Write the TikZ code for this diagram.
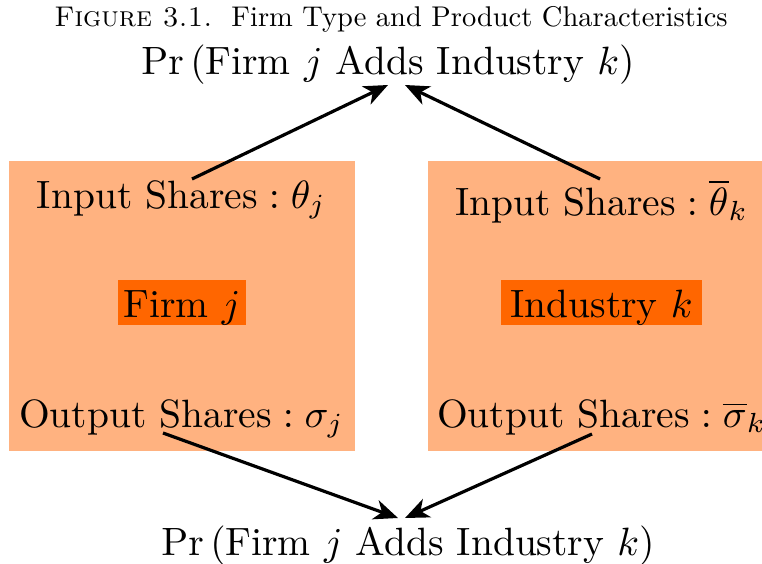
\documentclass[tikz,border=0pt]{standalone}
\usepackage{amsmath}
\usepackage{graphicx}
\usetikzlibrary{arrows.meta}
\definecolor{boxlight}{RGB}{255,178,128}
\definecolor{boxdark}{RGB}{255,102,0}
\newcommand{\bigtxt}[1]{\scalebox{3.95}{#1}}
\tikzset{
  lbl/.style={inner sep=0pt, anchor=base},
  panel/.style={fill=boxlight, draw=none},
  core/.style={fill=boxdark, draw=none},
  conn/.style={line width=3.2pt, -{Stealth[length=24pt,width=20pt,inset=7pt]}}
}
\begin{document}
\begin{tikzpicture}[x=1pt,y=-1pt]
\useasboundingbox (0,0) rectangle (762,564);
\fill[white] (0,0) rectangle (762,564);
% panels
\path[panel] (9,161) rectangle (355,451);
\path[panel] (428,161) rectangle (770,451);
\path[core] (118,280) rectangle (246,325);
\path[core] (501,280) rectangle (702,325);
% texts
\node[lbl] (cap) at (391,27) {\scalebox{2.85}{\textsc{Figure 3.1.}\ \ Firm Type and Product Characteristics}};
\node[lbl] (top) at (388,75) {\bigtxt{$\Pr\left(\text{Firm }j\text{ Adds Industry }k\right)$}};
\node[lbl] (inL) at (181.5,208) {\bigtxt{$\text{Input Shares} : \theta_j$}};
\node[lbl] (firm) at (182,317) {\bigtxt{Firm $j$}};
\node[lbl] (outL) at (181.5,427) {\bigtxt{$\text{Output Shares} : \sigma_j$}};
\node[lbl] (inR) at (601.5,215) {\bigtxt{$\text{Input Shares} : \overline{\theta}_k$}};
\node[lbl] (ind) at (601.5,317) {\bigtxt{Industry $k$}};
\node[lbl, anchor=base west] (outR) at (437,427) {\bigtxt{$\text{Output Shares} : \overline{\sigma}_k$}};
\node[lbl] (bot) at (408,555) {\bigtxt{$\Pr\left(\text{Firm }j\text{ Adds Industry }k\right)$}};
% connector ends
\coordinate (sIL) at (192,179);
\coordinate (sIR) at (600,179);
\coordinate (sOL) at (163,433);
\coordinate (sOR) at (592,434);
\coordinate (tTL) at (388,85);
\coordinate (tTR) at (405,85);
\coordinate (tBL) at (398,518);
\coordinate (tBR) at (405,518);
\draw[conn] (sIL) -- (tTL);
\draw[conn] (sIR) -- (tTR);
\draw[conn] (sOL) -- (tBL);
\draw[conn] (sOR) -- (tBR);
\end{tikzpicture}
\end{document}
